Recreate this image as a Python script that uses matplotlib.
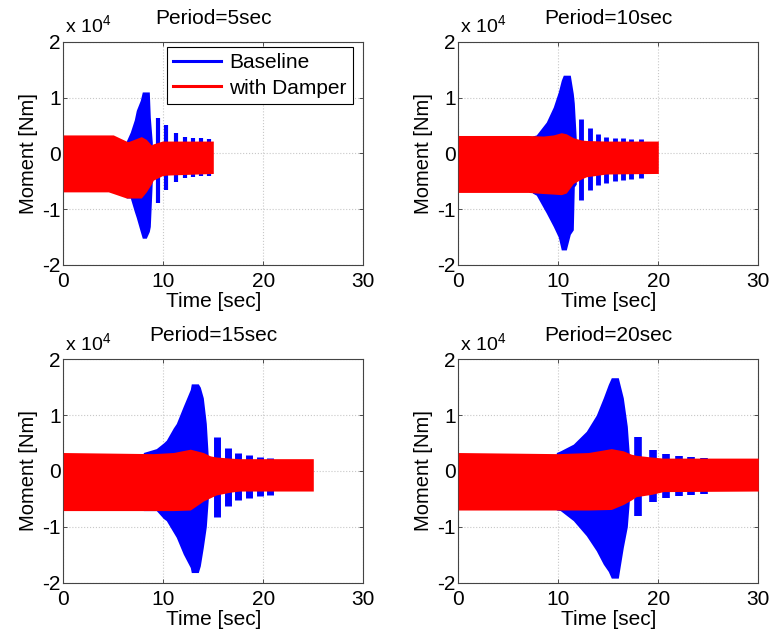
import matplotlib
matplotlib.use('Agg')
import matplotlib.pyplot as plt
import numpy as np

plt.rcParams['font.family'] = ['Liberation Sans', 'DejaVu Sans']
plt.rcParams['mathtext.fontset'] = 'custom'
plt.rcParams['mathtext.rm'] = 'Liberation Sans'
plt.rcParams['axes.unicode_minus'] = False

titles = ['Period=5sec', 'Period=10sec', 'Period=15sec', 'Period=20sec']

# damper case (red band): envelope knots
red_t1 = [0, 4.5, 5.0, 6.3, 6.5, 7.8, 8.3, 8.8, 9.0, 9.9, 10.3, 15]
red_hi1 = [0.33, 0.33, 0.33, 0.22, 0.21, 0.30, 0.25, 0.15, 0.17, 0.22, 0.22, 0.22]
red_lo1 = [-0.69, -0.69, -0.72, -0.80, -0.80, -0.80, -0.69, -0.55, -0.48, -0.40, -0.39, -0.36]

red_t2 = [0, 7, 8.5, 9.5, 10.3, 10.8, 11.5, 12.3, 12.8, 14.8, 20]
red_hi2 = [0.32, 0.32, 0.31, 0.33, 0.37, 0.35, 0.28, 0.24, 0.23, 0.22, 0.22]
red_lo2 = [-0.70, -0.70, -0.72, -0.73, -0.74, -0.71, -0.54, -0.46, -0.42, -0.37, -0.36]

red_t3 = [0, 9, 11, 12.7, 14, 14.7, 15.3, 16.7, 17.6, 25]
red_hi3 = [0.33, 0.31, 0.33, 0.39, 0.33, 0.27, 0.25, 0.23, 0.22, 0.22]
red_lo3 = [-0.71, -0.71, -0.71, -0.70, -0.54, -0.48, -0.43, -0.38, -0.36, -0.36]

red_t4 = [0, 10, 13, 15.3, 16.5, 17.3, 17.8, 19.3, 20.5, 30]
red_hi4 = [0.33, 0.31, 0.33, 0.40, 0.36, 0.30, 0.28, 0.25, 0.23, 0.23]
red_lo4 = [-0.70, -0.70, -0.70, -0.69, -0.60, -0.52, -0.46, -0.42, -0.37, -0.36]

# baseline case (blue): main resonance envelope
blue_t1 = [6.3, 6.7, 7.1, 7.3, 7.7, 7.9, 8.3, 8.6, 8.7, 8.9]
blue_hi1 = [0.22, 0.38, 0.60, 0.77, 0.95, 1.10, 1.10, 1.10, 0.65, 0.20]
blue_lo1 = [-0.80, -0.80, -1.04, -1.15, -1.40, -1.52, -1.52, -1.40, -1.31, -0.50]

blue_t2 = [7.4, 7.8, 8.8, 9.5, 10.0, 10.3, 10.5, 10.8, 11.2, 11.5, 11.6, 11.8]
blue_hi2 = [0.31, 0.33, 0.56, 0.83, 1.10, 1.31, 1.40, 1.40, 1.40, 1.07, 0.90, 0.25]
blue_lo2 = [-0.71, -0.75, -1.07, -1.31, -1.50, -1.73, -1.73, -1.73, -1.45, -1.37, -0.60, -0.55]

blue_t3 = [8.0, 9.3, 10.0, 10.3, 11.0, 11.3, 12.0, 12.7, 12.8, 13.5, 13.7, 14.0, 14.3, 14.5]
blue_hi3 = [0.33, 0.40, 0.50, 0.55, 0.77, 0.85, 1.16, 1.46, 1.56, 1.56, 1.50, 1.31, 0.85, 0.25]
blue_lo3 = [-0.71, -0.71, -0.85, -0.89, -1.10, -1.19, -1.49, -1.73, -1.82, -1.82, -1.70, -1.37, -1.00, -0.50]

blue_t4 = [9.8, 10.2, 11.5, 12.8, 13.8, 14.5, 15.0, 15.3, 16.0, 16.5, 16.9, 17.1]
blue_hi4 = [0.33, 0.36, 0.48, 0.71, 1.00, 1.31, 1.55, 1.67, 1.67, 1.31, 0.80, 0.30]
blue_lo4 = [-0.70, -0.71, -0.89, -1.16, -1.43, -1.67, -1.80, -1.92, -1.92, -1.37, -1.00, -0.55]

# baseline case: decaying beat spikes after resonance
spike_t1 = [9.5, 10.3, 11.3, 12.2, 13.0, 13.8, 14.6]
spike_hi1 = [0.63, 0.50, 0.37, 0.30, 0.28, 0.27, 0.26]
spike_lo1 = [-0.89, -0.66, -0.51, -0.45, -0.42, -0.41, -0.40]

spike_t2 = [12.3, 13.2, 14.0, 14.8, 15.7, 16.5, 17.3, 18.3]
spike_hi2 = [0.62, 0.45, 0.35, 0.29, 0.28, 0.27, 0.26, 0.26]
spike_lo2 = [-0.83, -0.66, -0.57, -0.53, -0.49, -0.47, -0.46, -0.45]

spike_t3 = [15.4, 16.5, 17.5, 18.6, 19.7, 20.7]
spike_hi3 = [0.60, 0.42, 0.33, 0.28, 0.25, 0.24]
spike_lo3 = [-0.83, -0.62, -0.52, -0.48, -0.45, -0.43]

spike_t4 = [18.0, 19.5, 20.8, 22.1, 23.3, 24.6]
spike_hi4 = [0.60, 0.37, 0.30, 0.27, 0.25, 0.24]
spike_lo4 = [-0.80, -0.56, -0.48, -0.45, -0.43, -0.41]

panels = [
    (red_t1, red_hi1, red_lo1, blue_t1, blue_hi1, blue_lo1, spike_t1, spike_hi1, spike_lo1),
    (red_t2, red_hi2, red_lo2, blue_t2, blue_hi2, blue_lo2, spike_t2, spike_hi2, spike_lo2),
    (red_t3, red_hi3, red_lo3, blue_t3, blue_hi3, blue_lo3, spike_t3, spike_hi3, spike_lo3),
    (red_t4, red_hi4, red_lo4, blue_t4, blue_hi4, blue_lo4, spike_t4, spike_hi4, spike_lo4),
]
spike_width = [3.0, 3.5, 5.0, 5.5]

W, H = 771, 638
fig = plt.figure(figsize=(W / 100, H / 100), dpi=100)
boxes = [(63.3, 41.7), (458.3, 41.7), (63.3, 359.3), (458.3, 359.3)]
aw, ah = 300, 223.3

blue = '#0000ff'
red = '#ff0000'
fs = 15

for i, (x0, y0) in enumerate(boxes):
    ax = fig.add_axes([x0 / W, 1 - (y0 + ah) / H, aw / W, ah / H])
    rt, rhi, rlo, bt, bhi, blo, st, shi, slo = panels[i]

    ax.fill_between(bt, blo, bhi, color=blue, lw=0, zorder=2)
    ax.vlines(st, slo, shi, color=blue, lw=spike_width[i], zorder=2)
    ax.fill_between(rt, rlo, rhi, color=red, lw=0, zorder=3)

    ax.set_xlim(0, 30)
    ax.set_ylim(-2, 2)
    ax.set_xticks([0, 10, 20, 30])
    ax.set_yticks([-2, -1, 0, 1, 2])
    ax.grid(True, ls=':', color='#c8c8c8', lw=0.8)
    ax.set_axisbelow(True)
    ax.tick_params(direction='in', length=3, width=0.6, top=True, right=True,
                   labelsize=fs, color='#333333')
    ax.tick_params(axis='x', pad=5)
    ax.tick_params(axis='y', pad=2)
    for sp in ax.spines.values():
        sp.set_color('#444444')
        sp.set_linewidth(0.8)

    ax.set_xlabel('Time [sec]', fontsize=fs, labelpad=1)
    ax.set_ylabel('Moment [Nm]', fontsize=14.5, labelpad=3)
    ax.set_title(titles[i], fontsize=fs, pad=13)
    ax.text(0.005, 1.02, r'x 10$^4$', transform=ax.transAxes, fontsize=14,
            ha='left', va='bottom')

    if i == 0:
        h1, = ax.plot([], [], color=blue, lw=2.2, label='Baseline')
        h2, = ax.plot([], [], color=red, lw=2.2, label='with Damper')
        leg = ax.legend(handles=[h1, h2], loc='upper right',
                        bbox_to_anchor=(0.966, 0.976), fontsize=fs,
                        fancybox=False, framealpha=1, edgecolor='black',
                        handlelength=2.3, handletextpad=0.4, labelspacing=0.3,
                        borderaxespad=0, borderpad=0.3)
        leg.get_frame().set_linewidth(0.8)

fig.savefig('out.png', dpi=100)
